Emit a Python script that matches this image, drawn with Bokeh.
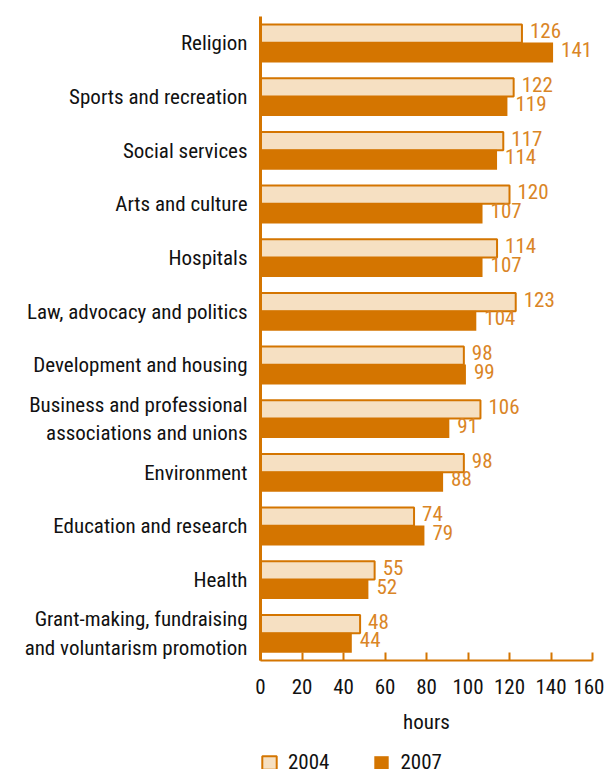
from bokeh.plotting import figure
from bokeh.layouts import column
from bokeh.models import ColumnDataSource, FactorRange, Legend, LegendItem, FixedTicker
from bokeh.transform import dodge
from bokeh.core.properties import value
from bokeh.embed import file_html
from bokeh.resources import INLINE

categories = [
    "Religion",
    "Sports and recreation",
    "Social services",
    "Arts and culture",
    "Hospitals",
    "Law, advocacy and politics",
    "Development and housing",
    "Business and professional\nassociations and unions",
    "Environment",
    "Education and research",
    "Health",
    "Grant-making, fundraising\nand voluntarism promotion",
]
hours_2004 = [126, 122, 117, 120, 114, 123, 98, 106, 98, 74, 55, 48]
hours_2007 = [141, 119, 114, 107, 107, 104, 99, 91, 88, 79, 52, 44]
x_ticks = [0, 20, 40, 60, 80, 100, 120, 140, 160]
series_names = ["2004", "2007"]

FONT = "Roboto Condensed, DejaVu Sans Condensed, Roboto"
FS = "21px"
DARK = "#D47500"
LIGHT = "#F6E0C2"
TXT = "#DA8526"

src = ColumnDataSource(dict(
    cat=categories,
    v04=hours_2004,
    v07=hours_2007,
    l04=[str(v) for v in hours_2004],
    l07=[str(v) for v in hours_2007],
))

p = figure(
    y_range=FactorRange(*list(reversed(categories))),
    x_range=(0, 160),
    frame_width=332, frame_height=644,
    min_border_left=260, min_border_right=12, min_border_top=16, min_border_bottom=0,
    output_backend="svg", toolbar_location=None,
)

p.hbar(y=dodge("cat", 0.18, range=p.y_range), right="v04", left=0, height=0.34,
       source=src, fill_color=LIGHT, line_color=DARK, line_width=2)
p.hbar(y=dodge("cat", -0.17, range=p.y_range), right="v07", left=0, height=0.37,
       source=src, fill_color=DARK, line_color=None)

p.text(x="v04", y=dodge("cat", 0.18, range=p.y_range), text="l04", source=src,
       x_offset=8, y_offset=-3, text_baseline="middle", text_align="left",
       text_color=TXT, text_font=value(FONT), text_font_size=FS)
p.text(x="v07", y=dodge("cat", -0.17, range=p.y_range), text="l07", source=src,
       x_offset=8, y_offset=-3, text_baseline="middle", text_align="left",
       text_color=TXT, text_font=value(FONT), text_font_size=FS)

p.xgrid.grid_line_color = None
p.ygrid.grid_line_color = None
p.outline_line_color = None

xa = p.xaxis[0]
xa.ticker = FixedTicker(ticks=x_ticks)
xa.axis_line_color = DARK
xa.axis_line_width = 2
xa.major_tick_line_color = DARK
xa.major_tick_line_width = 2
xa.major_tick_in = 8
xa.major_tick_out = 0
xa.minor_tick_line_color = None
xa.major_label_text_font = FONT
xa.major_label_text_font_size = FS
xa.major_label_text_color = "#111111"
xa.major_label_standoff = 18
xa.axis_label = "hours"
xa.axis_label_text_font = FONT
xa.axis_label_text_font_size = FS
xa.axis_label_text_font_style = "normal"
xa.axis_label_text_color = "#111111"
xa.axis_label_standoff = 13

ya = p.yaxis[0]
ya.axis_line_color = DARK
ya.axis_line_width = 3
ya.major_tick_line_color = None
ya.minor_tick_line_color = None
ya.major_label_text_font = FONT
ya.major_label_text_font_size = FS
ya.major_label_text_color = "#111111"
ya.major_label_standoff = 7

# legend strip below the chart (its frame lines up with the chart's frame)
pl = figure(width=604, height=33, x_range=(0, 1), y_range=(0, 1),
            x_axis_location=None, y_axis_location=None,
            min_border=0, output_backend="svg", toolbar_location=None)
pl.xgrid.grid_line_color = None
pl.ygrid.grid_line_color = None
pl.outline_line_color = None
lsrc = ColumnDataSource(dict(y=[float("nan")], r=[float("nan")]))
g04 = pl.hbar(y="y", right="r", left=0, height=0.5, source=lsrc,
              fill_color=LIGHT, line_color=DARK, line_width=2)
g07 = pl.hbar(y="y", right="r", left=0, height=0.5, source=lsrc,
              fill_color=DARK, line_color=None)
legend = Legend(items=[LegendItem(label=series_names[0], renderers=[g04]),
                       LegendItem(label=series_names[1], renderers=[g07])],
                orientation="horizontal", location=(0, -5),
                label_text_font=FONT, label_text_font_size=FS,
                label_text_color="#111111",
                glyph_width=18, glyph_height=17, label_standoff=10, spacing=43,
                padding=0, margin=0, border_line_color=None, background_fill_alpha=0)
pl.add_layout(legend, "center")

layout = column(p, pl, spacing=0)
open("out.html", "w").write(file_html(layout, INLINE))
